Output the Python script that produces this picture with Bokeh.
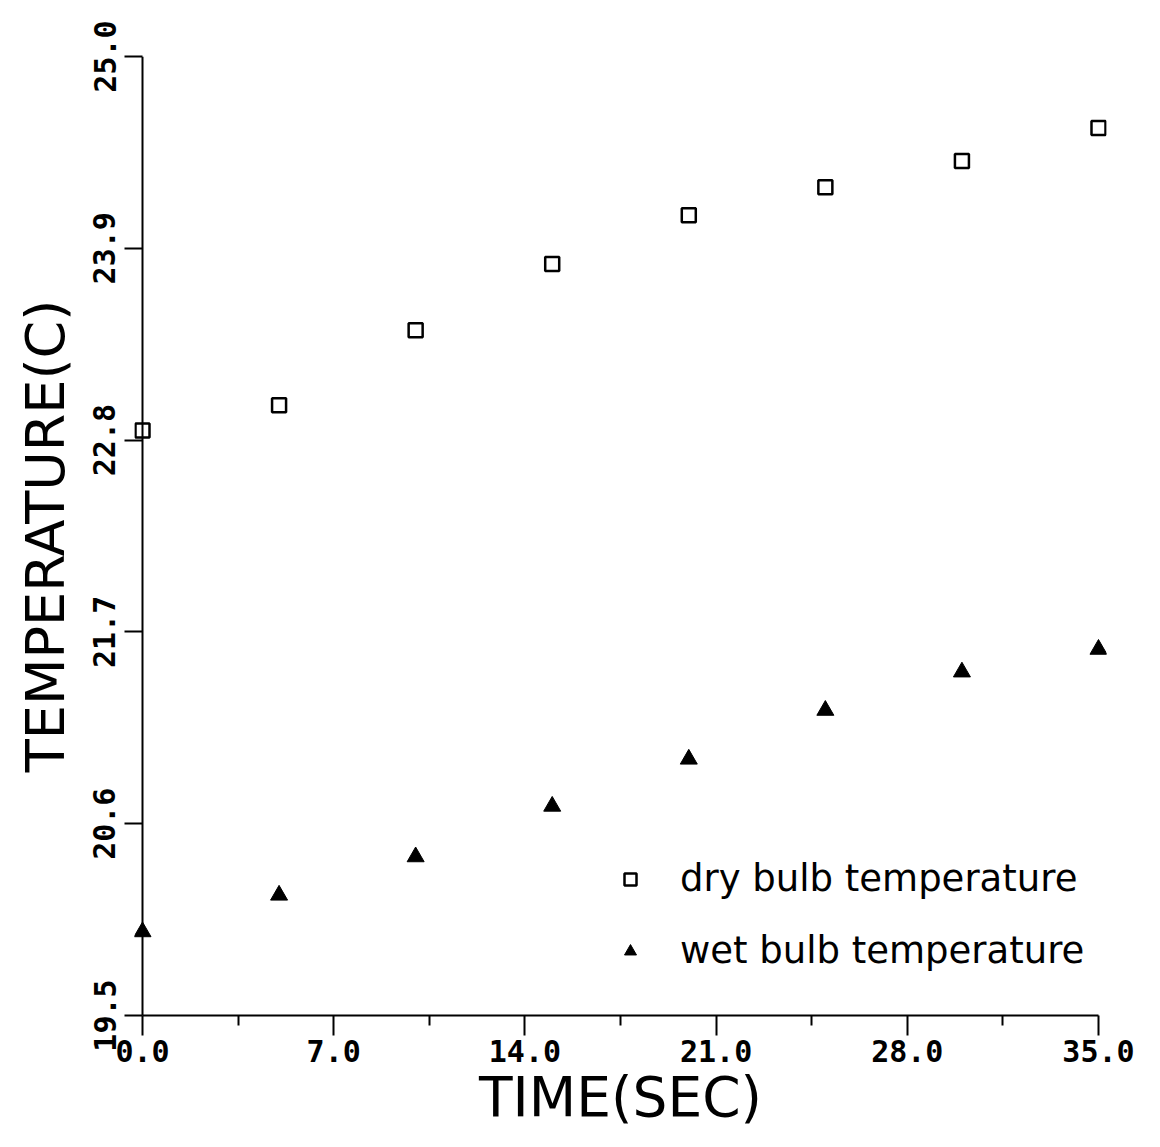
from bokeh.plotting import figure
from bokeh.models import Range1d, FixedTicker, PrintfTickFormatter, Legend, LegendItem, Span
from bokeh.embed import file_html
from bokeh.resources import INLINE

time_sec = [0, 5, 10, 15, 20, 25, 30, 35]
dry_bulb = [22.855, 23.00, 23.43, 23.81, 24.09, 24.25, 24.40, 24.59]
wet_bulb = [19.98, 20.19, 20.41, 20.70, 20.97, 21.25, 21.47, 21.60]
x_ticks = [0.0, 7.0, 14.0, 21.0, 28.0, 35.0]
x_minor = [3.5, 10.5, 17.5, 24.5, 31.5]
y_ticks = [19.5, 20.6, 21.7, 22.8, 23.9, 25.0]
labels = ["dry bulb temperature", "wet bulb temperature"]

x_lo, x_hi = x_ticks[0], x_ticks[-1]
y_lo, y_hi = y_ticks[0], y_ticks[-1]
pad = 0.293  # small room so edge markers are not clipped

p = figure(width=1152, height=1139, output_backend="svg", toolbar_location=None,
           x_range=Range1d(x_lo - pad, x_hi + pad), y_range=Range1d(y_lo, y_hi),
           min_border_left=134, min_border_right=46, min_border_top=56, min_border_bottom=124)
p.outline_line_color = None
p.grid.visible = False
p.background_fill_color = "white"
p.border_fill_color = "white"

tick_font = "DejaVu Sans Mono"
for ax in (p.xaxis[0], p.yaxis[0]):
    ax.axis_line_width = 2
    ax.axis_line_color = "black"
    ax.major_tick_line_width = 2
    ax.minor_tick_line_width = 2
    ax.major_tick_in = 0
    ax.minor_tick_in = 0
    ax.major_label_text_font = tick_font
    ax.major_label_text_font_style = "bold"
    ax.major_label_text_font_size = "30px"
    ax.major_label_text_color = "black"
    ax.axis_label_text_font = "DejaVu Sans"
    ax.axis_label_text_font_style = "normal"
    ax.axis_label_text_color = "black"
    ax.formatter = PrintfTickFormatter(format="%.1f")

p.xaxis.ticker = FixedTicker(ticks=x_ticks, minor_ticks=x_minor)
p.xaxis.bounds = (x_lo, x_hi)
p.xaxis.major_tick_out = 20
p.xaxis.minor_tick_out = 10
p.xaxis.major_label_standoff = 4
p.xaxis.axis_label = "TIME(SEC)"
p.xaxis.axis_label_standoff = 0
p.xaxis.axis_label_text_font_size = "55px"

# y axis drawn at the frame edge; its line is replaced by a rule at x = 0
p.yaxis.ticker = FixedTicker(ticks=y_ticks, minor_ticks=[])
p.yaxis.axis_line_color = None
p.yaxis.major_tick_out = 10
p.yaxis.major_tick_in = 8
p.yaxis.minor_tick_out = 0
p.yaxis.major_label_orientation = "vertical"
p.yaxis.major_label_standoff = 9
p.yaxis.axis_label = "TEMPERATURE(C)"
p.yaxis.axis_label_standoff = 14
p.yaxis.axis_label_text_font_size = "54px"

p.add_layout(Span(location=x_lo, dimension="height", line_color="black", line_width=2))

r_dry = p.scatter(time_sec, dry_bulb, marker="square", size=14, fill_color="white",
                  line_color="black", line_width=2.5)
r_wet = p.scatter(time_sec, wet_bulb, marker="triangle", size=17, fill_color="black",
                  line_color="black", line_width=1)

legend = Legend(items=[LegendItem(label=labels[0], renderers=[r_dry]),
                       LegendItem(label=labels[1], renderers=[r_wet])],
                location=(481, 43), border_line_color=None, background_fill_alpha=0,
                padding=0, margin=0, spacing=29, glyph_width=30, glyph_height=40,
                label_height=40, label_standoff=35,
                label_text_font="DejaVu Sans", label_text_font_size="37px",
                label_text_color="black")
p.add_layout(legend, "center")

open("out.html", "w").write(file_html(p, INLINE))
